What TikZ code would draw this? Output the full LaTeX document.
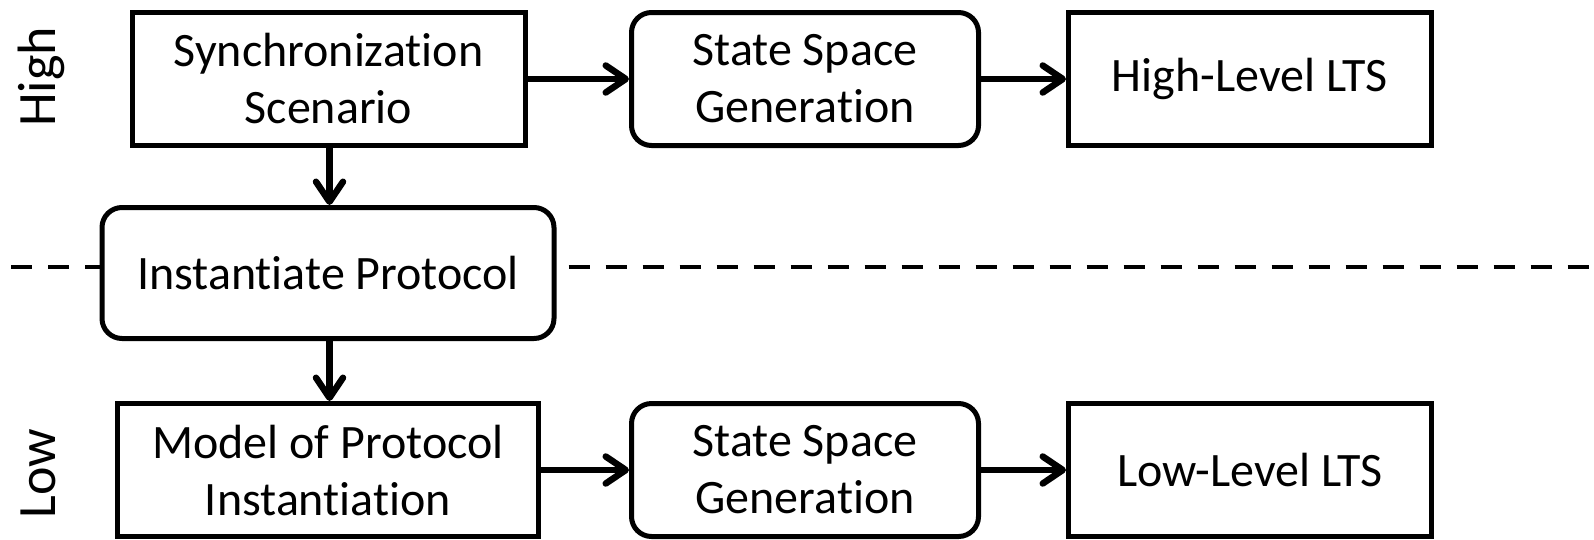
\documentclass[tikz,border=0pt]{standalone}
\usepackage{fontspec}
\setmainfont[RawFeature=-liga]{Carlito}
\usetikzlibrary{arrows.meta}
\begin{document}
\begin{tikzpicture}[x=1pt,y=-1pt,
  every node/.style={font=\fontsize{48}{57}\selectfont, align=center, inner sep=0pt},
  block/.style={draw, line width=5pt, minimum height=133pt},
  roundblock/.style={block, rounded corners=20pt},
  flow/.style={line width=6.5pt, -{Straight Barb[length=20pt,width=27pt,round]}},
  level/.style={rotate=90, anchor=base, font=\fontsize{54}{60}\selectfont}
]
\path[use as bounding box] (0,0) rectangle (1594,539);

% high level row
\node[block, minimum width=393pt] (sync) at (328.5,79) {Synchronization\\Scenario};
\node[roundblock, minimum width=347pt] (gen1) at (805,79) {State Space\\Generation};
\node[block, minimum width=363pt] (hlts) at (1250,79) {High-Level LTS};

% instantiation step on the border between levels
\node[roundblock, minimum width=452pt, minimum height=131pt] (inst) at (328,273) {Instantiate Protocol};

% low level row
\node[block, minimum width=421pt] (model) at (328,470) {Model of Protocol\\Instantiation};
\node[roundblock, minimum width=347pt] (gen2) at (805,470) {State Space\\Generation};
\node[block, minimum width=363pt] (llts) at (1250,470) {Low-Level LTS};

% level labels
\node[level] (high) at (55,77) {High};
\node[level] (low) at (55,473.5) {Low};

% separator between the levels
\coordinate (sepL) at (11,267);
\coordinate (sepR) at (1594,267);
\draw[line width=4.5pt, dash pattern=on 21pt off 16pt] (sepL) -- (inst.west |- sepL);
\draw[line width=4.5pt, dash pattern=on 21pt off 16pt] (inst.east |- sepR) ++(12,0) -- (sepR);

% connectors
\draw[flow] (sync) -- (gen1);
\draw[flow] (gen1) -- (hlts);
\draw[flow] (sync.south -| 329.5,0) -- (inst.north -| 329.5,0);
\draw[flow] (inst.south -| 329.5,0) -- (model.north -| 329.5,0);
\draw[flow] (model) -- (gen2);
\draw[flow] (gen2) -- (llts);
\end{tikzpicture}
\end{document}
